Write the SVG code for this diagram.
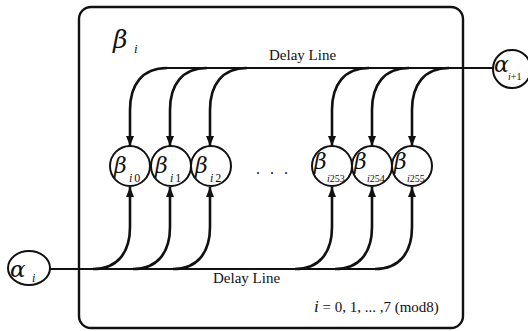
<svg xmlns="http://www.w3.org/2000/svg" width="528" height="331" viewBox="0 0 528 331">
<style>
.ln{fill:none;stroke:#111;stroke-width:2.2}
.arc{fill:none;stroke:#111;stroke-width:2.6}
.nd{fill:#fff;stroke:#111;stroke-width:2}
.t{font-family:"Liberation Serif",serif;fill:#111}
.g{font-family:"DejaVu Serif","Liberation Serif",serif;font-style:italic;fill:#111}
.s{font-family:"Liberation Serif",serif;font-style:italic;fill:#111}
</style>
<defs>
<marker id="ah" viewBox="0 0 10 8" refX="10" refY="4" markerWidth="10" markerHeight="8" markerUnits="userSpaceOnUse" orient="auto">
<path d="M0,0 L10,4 L0,8 Z" fill="#111"/>
</marker>
</defs>
<rect width="528" height="331" fill="#fff"/>
<g id="box">
<rect x="79" y="7" width="384" height="321" rx="12" fill="none" stroke="#111" stroke-width="2.4"/>
<text class="g" x="113" y="48" font-size="25">β</text>
<text class="s" x="134" y="53" font-size="13">i</text>
</g>
<g id="connectors">
<path class="ln" d="M167 68 H493"/>
<path class="ln" d="M50 269 H380"/>
<path class="arc" marker-end="url(#ah)" d="M167 68 C142 68 130 85 130 110 L130 146"/>
<path class="arc" marker-end="url(#ah)" d="M207 68 C182 68 170 85 170 110 L170 146"/>
<path class="arc" marker-end="url(#ah)" d="M247 68 C222 68 210 85 210 110 L210 146"/>
<path class="arc" marker-end="url(#ah)" d="M369 68 C344 68 332 85 332 110 L332 146"/>
<path class="arc" marker-end="url(#ah)" d="M409 68 C384 68 372 85 372 110 L372 146"/>
<path class="arc" marker-end="url(#ah)" d="M449 68 C424 68 412 85 412 110 L412 146"/>
<path class="arc" marker-end="url(#ah)" d="M93 269 C118 269 130 252 130 227 L130 187"/>
<path class="arc" marker-end="url(#ah)" d="M133 269 C158 269 170 252 170 227 L170 187"/>
<path class="arc" marker-end="url(#ah)" d="M173 269 C198 269 210 252 210 227 L210 187"/>
<path class="arc" marker-end="url(#ah)" d="M295 269 C320 269 332 252 332 227 L332 187"/>
<path class="arc" marker-end="url(#ah)" d="M335 269 C360 269 372 252 372 227 L372 187"/>
<path class="arc" marker-end="url(#ah)" d="M375 269 C400 269 412 252 412 227 L412 187"/>
<text class="t" x="269" y="60" font-size="15">Delay Line</text>
<text class="t" x="213" y="283" font-size="15">Delay Line</text>
</g>
<g id="alpha_i">
<ellipse class="nd" cx="29" cy="268" rx="21" ry="17"/>
<text class="g" x="10" y="277" font-size="23">α</text>
<text class="s" x="32" y="282" font-size="12">i</text>
</g>
<g id="alpha_i1">
<ellipse class="nd" cx="512" cy="69" rx="19" ry="19"/>
<text class="g" x="494" y="72" font-size="22">α</text>
<text class="t" x="508" y="80" font-size="10"><tspan font-style="italic">i</tspan>+1</text>
</g>
<g id="beta_i0">
<circle class="nd" cx="130" cy="166" r="20"/>
<text class="g" x="114" y="173" font-size="22">β</text>
<text class="s" x="129" y="182" font-size="12">i<tspan font-style="normal" dx="2">0</tspan></text>
</g>
<g id="beta_i1">
<circle class="nd" cx="171" cy="166" r="20"/>
<text class="g" x="155" y="173" font-size="22">β</text>
<text class="s" x="170" y="182" font-size="12">i<tspan font-style="normal" dx="2">1</tspan></text>
</g>
<g id="beta_i2">
<circle class="nd" cx="211" cy="166" r="20"/>
<text class="g" x="195" y="173" font-size="22">β</text>
<text class="s" x="210" y="182" font-size="12">i<tspan font-style="normal" dx="2">2</tspan></text>
</g>
<text class="t" x="256 270 284" y="174" font-size="16">...</text>
<g id="beta_i253">
<circle class="nd" cx="332" cy="166" r="20"/>
<text class="g" x="314" y="169" font-size="22">β</text>
<text class="s" x="327" y="182" font-size="10">i<tspan font-style="normal">253</tspan></text>
</g>
<g id="beta_i254">
<circle class="nd" cx="372" cy="166" r="20"/>
<text class="g" x="354" y="169" font-size="22">β</text>
<text class="s" x="367" y="182" font-size="10">i<tspan font-style="normal">254</tspan></text>
</g>
<g id="beta_i255">
<circle class="nd" cx="412" cy="166" r="20"/>
<text class="g" x="394" y="169" font-size="22">β</text>
<text class="s" x="407" y="182" font-size="10">i<tspan font-style="normal">255</tspan></text>
</g>
<text class="t" x="314" y="312" font-size="15"><tspan font-style="italic" font-size="17">i</tspan>  = 0, 1, ... ,7 (mod8)</text>
</svg>
